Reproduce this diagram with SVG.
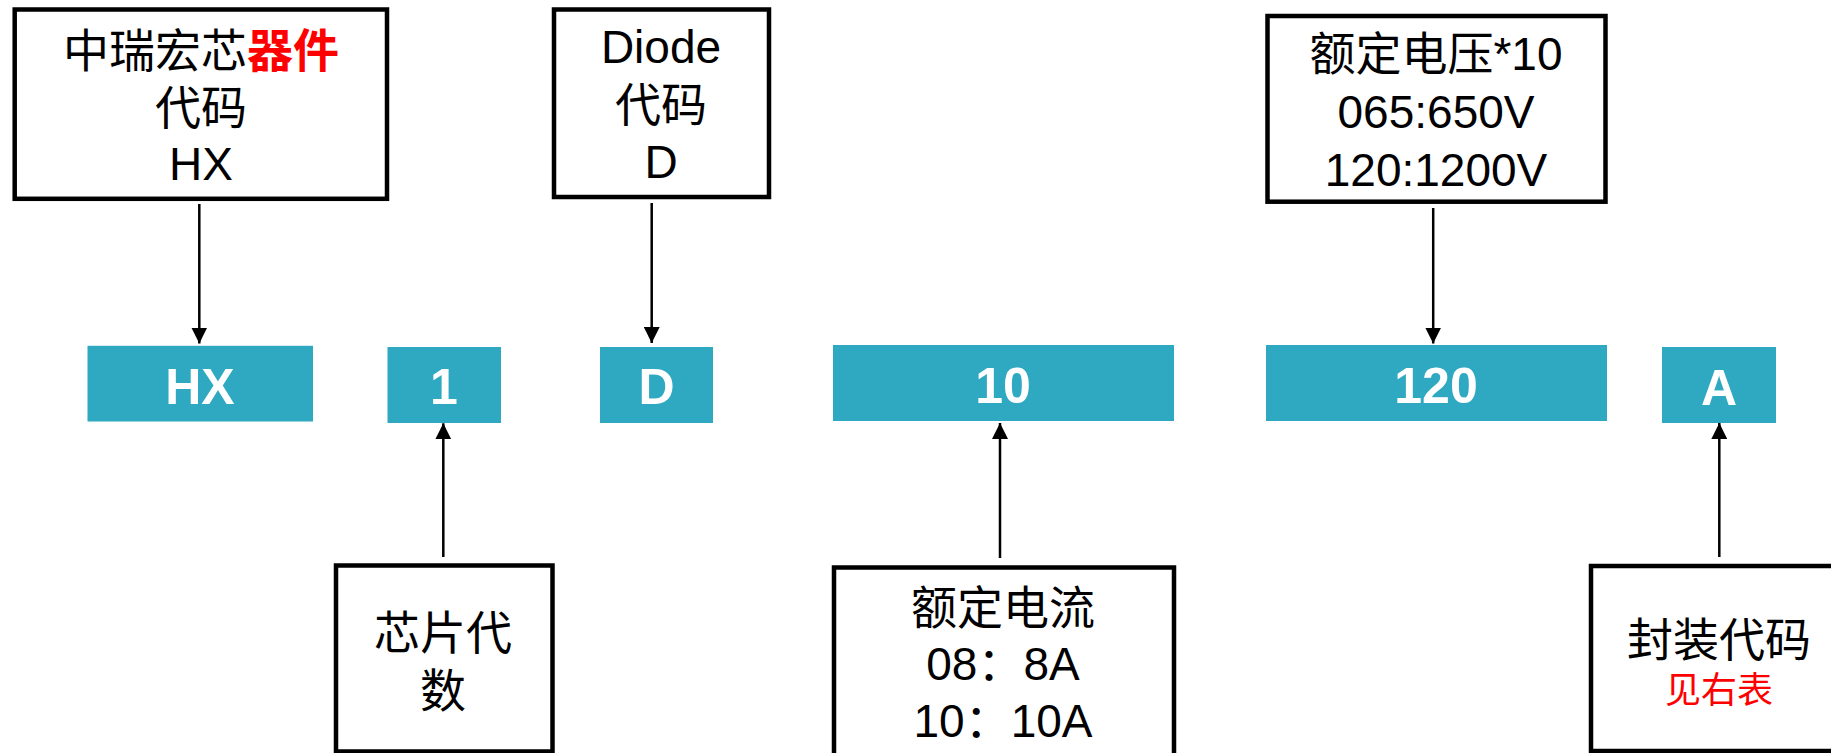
<svg xmlns="http://www.w3.org/2000/svg" width="1831" height="753" viewBox="0 0 1831 753">
<style>
.box{fill:#ffffff;stroke:#000000;stroke-width:4.5}
.code{fill:#2FA8C2}
.t{font-family:"Liberation Sans","Noto Sans CJK SC",sans-serif;font-size:46px;fill:#000000;text-anchor:middle}
.ct{font-family:"Liberation Sans","Noto Sans CJK SC",sans-serif;font-size:50px;font-weight:bold;fill:#ffffff;text-anchor:middle}
.red{fill:#FF0000}
.conn{stroke:#000000;stroke-width:2.5;fill:none;marker-end:url(#arr)}
</style>
<defs>
<marker id="arr" markerUnits="userSpaceOnUse" markerWidth="16" markerHeight="16" refX="16" refY="8" orient="auto">
<path d="M0,0 L16,8 L0,16 Z" fill="#000000"/>
</marker>
</defs>
<rect x="0" y="0" width="1831" height="753" fill="#ffffff"/>

<g id="node-brand">
<rect class="box" x="14.7" y="9.5" width="372.3" height="189.3"/>
<text class="t" x="201" y="67">中瑞宏芯<tspan class="red" font-weight="bold">器件</tspan></text>
<text class="t" x="201" y="124">代码</text>
<text class="t" x="201" y="180">HX</text>
</g>

<g id="node-diode">
<rect class="box" x="554" y="9.5" width="215" height="187.5"/>
<text class="t" x="661" y="63">Diode</text>
<text class="t" x="661" y="121">代码</text>
<text class="t" x="661" y="178">D</text>
</g>

<g id="node-voltage">
<rect class="box" x="1267.5" y="16" width="338" height="185.7"/>
<text class="t" x="1436" y="70">额定电压*10</text>
<text class="t" x="1436" y="128">065:650V</text>
<text class="t" x="1436" y="186">120:1200V</text>
</g>

<g id="code-HX">
<rect class="code" x="87.5" y="345.8" width="225.5" height="75.7"/>
<text class="ct" x="200" y="404">HX</text>
</g>
<g id="code-1">
<rect class="code" x="387.5" y="347" width="113.5" height="76"/>
<text class="ct" x="444" y="404">1</text>
</g>
<g id="code-D">
<rect class="code" x="600" y="347" width="113" height="76"/>
<text class="ct" x="656.5" y="404">D</text>
</g>
<g id="code-10">
<rect class="code" x="833" y="345" width="341" height="76"/>
<text class="ct" x="1003" y="403">10</text>
</g>
<g id="code-120">
<rect class="code" x="1266" y="345" width="341" height="76"/>
<text class="ct" x="1436" y="403">120</text>
</g>
<g id="code-A">
<rect class="code" x="1662" y="347" width="114" height="76"/>
<text class="ct" x="1719" y="405">A</text>
</g>

<g id="node-chips">
<rect class="box" x="336" y="565.5" width="216.5" height="186"/>
<text class="t" x="443" y="649">芯片代</text>
<text class="t" x="443" y="707">数</text>
</g>

<g id="node-current">
<rect class="box" x="834" y="567.5" width="340" height="210"/>
<text class="t" x="1003" y="624">额定电流</text>
<text class="t" x="1003" y="680">08：8A</text>
<text class="t" x="1003" y="737">10：10A</text>
</g>

<g id="node-package">
<rect class="box" x="1591" y="566" width="280" height="185"/>
<text class="t" x="1719" y="656">封装代码</text>
<text class="t red" x="1719" y="703" style="font-size:36px">见右表</text>
</g>

<g id="connectors">
<line class="conn" x1="199.3" y1="204" x2="199.3" y2="343.5"/>
<line class="conn" x1="651.7" y1="203" x2="651.7" y2="343"/>
<line class="conn" x1="1433.2" y1="208" x2="1433.2" y2="343.5"/>
<line class="conn" x1="443.3" y1="557" x2="443.3" y2="423.3"/>
<line class="conn" x1="1000" y1="558" x2="1000" y2="423"/>
<line class="conn" x1="1719.3" y1="557" x2="1719.3" y2="423"/>
</g>
</svg>
